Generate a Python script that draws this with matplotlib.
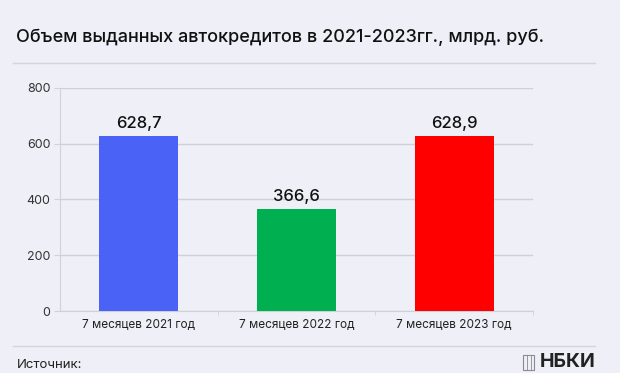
import matplotlib.pyplot as plt
from matplotlib.lines import Line2D
from matplotlib.patches import Rectangle

# data
categories = ['7 месяцев 2021 год', '7 месяцев 2022 год', '7 месяцев 2023 год']
values = [628.7, 366.6, 628.9]
value_labels = ['628,7', '366,6', '628,9']
colors = ['#4a62f6', '#00b050', '#ff0000']
y_ticks = [0, 200, 400, 600, 800]

bg = '#eeeff7'
grid_col = '#cfd0d8'

plt.rcParams['font.family'] = ['Inter', 'DejaVu Sans']

fig = plt.figure(figsize=(6.2, 3.73), dpi=100, facecolor=bg)
ax = fig.add_axes([0.0968, 0.1662, 0.763, 0.598], facecolor=bg)

x = list(range(len(categories)))
bars = ax.bar(x, values, width=0.5, color=colors, zorder=3)

# value labels
for b, lab in zip(bars, value_labels):
    ax.text(b.get_x() + b.get_width() / 2, b.get_height() + 18, lab,
            ha='center', va='bottom', fontsize=12, fontweight='medium',
            color='#111111')

ax.set_xlim(-0.5, len(categories) - 0.5)
ax.set_ylim(0, 800)
ax.set_yticks(y_ticks)
ax.set_yticklabels([str(t) for t in y_ticks], fontsize=9, color='#333333')
ax.yaxis.grid(True, color=grid_col, linewidth=1, zorder=0)

# category labels, separators as minor ticks
ax.set_xticks(x)
ax.set_xticklabels(categories, fontsize=8.5, color='#222222')
ax.tick_params(axis='x', which='major', length=0, pad=6)
ax.set_xticks([0.5, 1.5, 2.5], minor=True)
ax.tick_params(axis='x', which='minor', length=3, color=grid_col)
ax.tick_params(axis='y', length=4, color=grid_col, pad=3)

for s in ['top', 'right']:
    ax.spines[s].set_visible(False)
ax.spines['left'].set_color(grid_col)
ax.spines['bottom'].set_color(grid_col)

# title, separators, footer
fig.text(0.026, 0.901, 'Объем выданных автокредитов в 2021-2023гг., млрд. руб.',
         fontsize=13, fontweight='medium', color='#111111', va='center')
fig.add_artist(Line2D([0.021, 0.96], [0.831, 0.831], color='#d3d4dc', linewidth=1))
fig.add_artist(Line2D([0.021, 0.96], [0.072, 0.072], color='#d3d4dc', linewidth=1))
fig.text(0.027, 0.021, 'Источник:', fontsize=9.5, color='#222222', va='center')
fig.text(0.96, 0.029, 'НБКИ', fontsize=14, fontweight='bold', color='#222222',
         ha='right', va='center')
# small logo mark
fig.add_artist(Rectangle((0.844, 0.008), 0.018, 0.04, fill=False,
                         edgecolor='#8a8a90', linewidth=0.8))
for lx in [0.850, 0.856]:
    fig.add_artist(Line2D([lx, lx], [0.008, 0.048], color='#8a8a90', linewidth=0.6))

fig.savefig('out.png', dpi=100, facecolor=bg)
